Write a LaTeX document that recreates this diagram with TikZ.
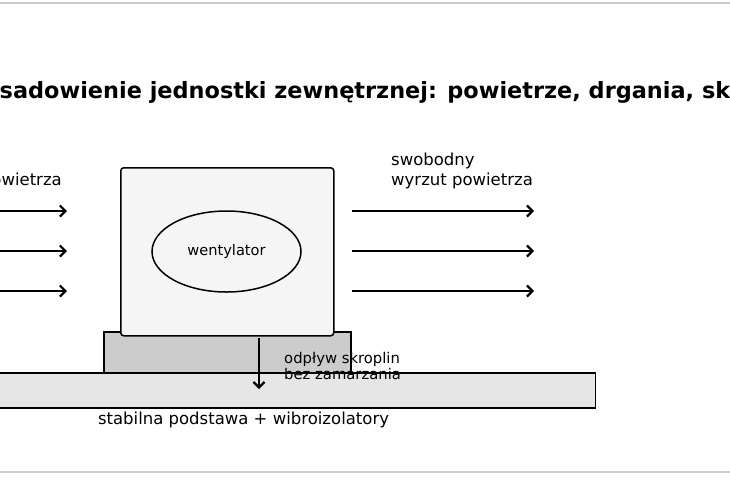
\documentclass[tikz,border=0pt]{standalone}
\usepackage{fontspec}
\setmainfont{DejaVu Sans}
\usetikzlibrary{arrows.meta,shapes.geometric}
\definecolor{framegray}{HTML}{CCCCCC}
\definecolor{unitfill}{HTML}{F5F5F5}
\definecolor{pedfill}{HTML}{CCCCCC}
\definecolor{slabfill}{HTML}{E6E6E6}
\tikzset{
  box/.style={draw=black, line width=1.5pt, inner sep=0pt, anchor=north west},
  flow/.style={line width=2.2pt, -{Straight Barb[length=5.5pt,width=11pt,line width=2.2pt]}},
  lbl/.style={font=\fontsize{16.5}{20}\selectfont, align=left, inner sep=0pt},
  small/.style={font=\fontsize{14.8}{16}\selectfont, align=left, inner sep=0pt},
}
\begin{document}
\begin{tikzpicture}[x=1pt,y=-1pt]
\useasboundingbox (0,0) rectangle (730,480);
\clip (0,0) rectangle (730,480);
\fill[white] (0,0) rectangle (730,480);
\draw[framegray, line width=1.2pt] (-50,3) rectangle (780,472);
% title
\node[anchor=base west, inner sep=0pt, font=\fontsize{22.4}{27}\selectfont\bfseries] (title) at (-0.5,98) {\llap{Po}sadowienie jednostki zewnętrznej: powietrze, drgania, skropliny};
% slab and pedestal
\node[box, fill=slabfill, minimum width=700pt, minimum height=35pt, anchor=north east] (slab) at (596,372) {};
\node[box, fill=pedfill, minimum width=247pt, minimum height=41pt] (ped) at (103,331) {};
% unit
\node[box, fill=unitfill, rounded corners=3pt, minimum width=213pt, minimum height=168pt] (unit) at (120,167) {};
\node[draw=black, line width=1.5pt, ellipse, inner sep=0pt, minimum width=149pt, minimum height=81pt, font=\fontsize{14.6}{17}\selectfont] (fan) at (226.5,251.5) {wentylator};
% air arrows
\foreach \y [count=\i] in {211,251,291} {
  \coordinate (lin\i) at (-20,\y);
  \coordinate (lout\i) at (67,\y);
  \coordinate (rin\i) at (352,\y);
  \coordinate (rout\i) at (534,\y);
  \draw[flow] (lin\i) -- (lout\i);
  \draw[flow] (rin\i) -- (rout\i);
}
% labels
\node[lbl, anchor=base east] (inlbl) at (62,185) {swobodny\\napływ powietrza};
\node[lbl, anchor=base west] (outlbl) at (391,185) {swobodny\\wyrzut powietrza};
% condensate
\coordinate (dtop) at (259,338);
\coordinate (dbot) at (259,389);
\draw[flow] (dtop) -- (dbot);
\node[small, anchor=base west] (cond) at (284,379) {odpływ skroplin\\bez zamarzania};
\node[lbl, anchor=base] (base) at (243.5,424) {stabilna podstawa + wibroizolatory};
\end{tikzpicture}
\end{document}
